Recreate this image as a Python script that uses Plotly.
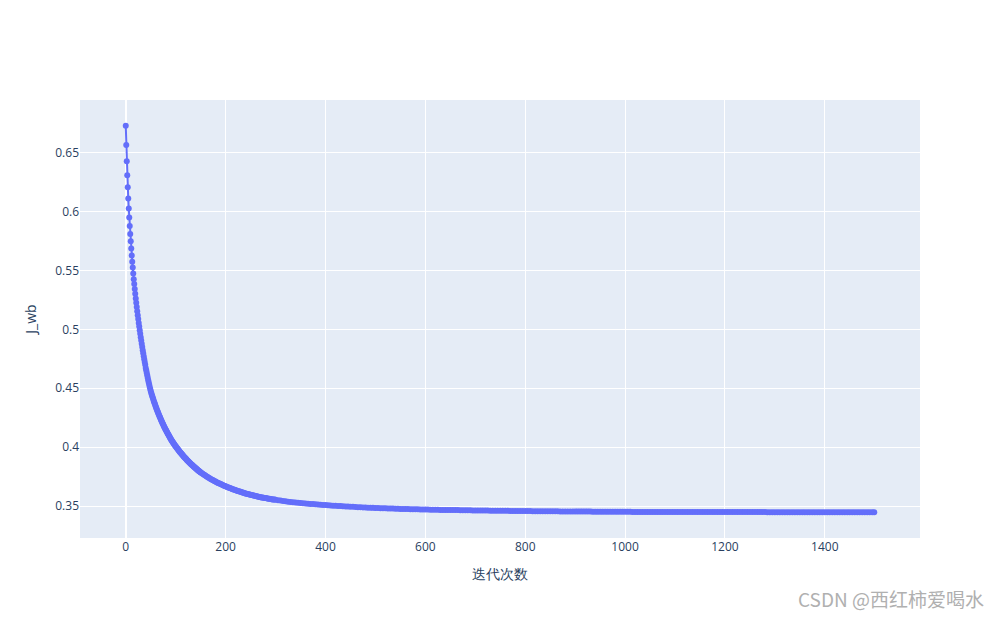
import plotly.graph_objects as go

# iteration numbers (dense where the curve is steep)
iters_a = list(range(0, 151))
iters_b = list(range(152, 301, 2))
iters_c = list(range(305, 1496, 5)) + [1499]

# cost J_wb
cost_a = [
    0.6729, 0.6564, 0.6426, 0.6308, 0.6206, 0.6110, 0.6025, 0.5949, 0.5878, 0.5810,
    0.5748, 0.5686, 0.5627, 0.5573, 0.5525, 0.5475, 0.5426, 0.5384, 0.5342, 0.5302,
    0.5263, 0.5225, 0.5189, 0.5154, 0.5120, 0.5087, 0.5055, 0.5024, 0.4993, 0.4963,
    0.4934, 0.4905, 0.4877, 0.4850, 0.4823, 0.4797, 0.4772, 0.4747, 0.4723, 0.4699,
    0.4673, 0.4652, 0.4631, 0.4610, 0.4589, 0.4569, 0.4549, 0.4530, 0.4511, 0.4493,
    0.4476, 0.4462, 0.4448, 0.4434, 0.4421, 0.4408, 0.4395, 0.4382, 0.4370, 0.4358,
    0.4346, 0.4334, 0.4323, 0.4312, 0.4301, 0.4290, 0.4280, 0.4269, 0.4259, 0.4249,
    0.4239, 0.4229, 0.4220, 0.4210, 0.4201, 0.4192, 0.4183, 0.4174, 0.4166, 0.4157,
    0.4149, 0.4141, 0.4133, 0.4125, 0.4117, 0.4109, 0.4102, 0.4094, 0.4087, 0.4079,
    0.4071, 0.4064, 0.4057, 0.4050, 0.4044, 0.4037, 0.4031, 0.4025, 0.4019, 0.4013,
    0.4007, 0.4001, 0.3995, 0.3990, 0.3984, 0.3979, 0.3973, 0.3968, 0.3962, 0.3957,
    0.3952, 0.3947, 0.3942, 0.3937, 0.3932, 0.3927, 0.3922, 0.3917, 0.3912, 0.3908,
    0.3903, 0.3899, 0.3894, 0.3890, 0.3885, 0.3881, 0.3877, 0.3873, 0.3868, 0.3864,
    0.3860, 0.3856, 0.3852, 0.3848, 0.3844, 0.3840, 0.3836, 0.3832, 0.3829, 0.3825,
    0.3821, 0.3817, 0.3814, 0.3810, 0.3807, 0.3803, 0.3800, 0.3796, 0.3793, 0.3789,
    0.3786,
]
cost_b = [
    0.3780, 0.3774, 0.3768, 0.3763, 0.3757, 0.3752, 0.3747, 0.3741, 0.3736, 0.3731,
    0.3726, 0.3721, 0.3717, 0.3712, 0.3708, 0.3703, 0.3699, 0.3695, 0.3691, 0.3687,
    0.3683, 0.3679, 0.3675, 0.3671, 0.3668, 0.3664, 0.3661, 0.3657, 0.3654, 0.3651,
    0.3648, 0.3644, 0.3641, 0.3638, 0.3635, 0.3632, 0.3629, 0.3626, 0.3624, 0.3621,
    0.3618, 0.3615, 0.3613, 0.3610, 0.3608, 0.3605, 0.3603, 0.3601, 0.3598, 0.3596,
    0.3594, 0.3592, 0.3590, 0.3588, 0.3586, 0.3584, 0.3582, 0.3580, 0.3578, 0.3576,
    0.3574, 0.3573, 0.3571, 0.3569, 0.3568, 0.3566, 0.3565, 0.3563, 0.3562, 0.3560,
    0.3559, 0.3557, 0.3556, 0.3555, 0.3553,
]
cost_c = [
    0.3550, 0.3547, 0.3544, 0.3541, 0.3538, 0.3535, 0.3533, 0.3530, 0.3528, 0.3526,
    0.3524, 0.3522, 0.3520, 0.3518, 0.3517, 0.3515, 0.3513, 0.3512, 0.3510, 0.3509,
    0.3507, 0.3506, 0.3504, 0.3503, 0.3501, 0.3500, 0.3499, 0.3497, 0.3496, 0.3495,
    0.3494, 0.3492, 0.3491, 0.3490, 0.3489, 0.3488, 0.3487, 0.3486, 0.3485, 0.3484,
    0.3483, 0.3482, 0.3482, 0.3481, 0.3480, 0.3479, 0.3479, 0.3478, 0.3477, 0.3476,
    0.3476, 0.3475, 0.3475, 0.3474, 0.3474, 0.3473, 0.3473, 0.3472, 0.3472, 0.3471,
    0.3471, 0.3470, 0.3470, 0.3469, 0.3469, 0.3468, 0.3468, 0.3467, 0.3467, 0.3467,
    0.3466, 0.3466, 0.3466, 0.3465, 0.3465, 0.3464, 0.3464, 0.3464, 0.3463, 0.3463,
    0.3463, 0.3462, 0.3462, 0.3462, 0.3462, 0.3461, 0.3461, 0.3461, 0.3461, 0.3460,
    0.3460, 0.3460, 0.3460, 0.3459, 0.3459, 0.3459, 0.3459, 0.3458, 0.3458, 0.3458,
    0.3458, 0.3458, 0.3457, 0.3457, 0.3457, 0.3457, 0.3457, 0.3456, 0.3456, 0.3456,
    0.3456, 0.3456, 0.3456, 0.3455, 0.3455, 0.3455, 0.3455, 0.3455, 0.3455, 0.3454,
    0.3454, 0.3454, 0.3454, 0.3454, 0.3454, 0.3454, 0.3453, 0.3453, 0.3453, 0.3453,
    0.3453, 0.3453, 0.3453, 0.3452, 0.3452, 0.3452, 0.3452, 0.3452, 0.3452, 0.3452,
    0.3452, 0.3452, 0.3451, 0.3451, 0.3451, 0.3451, 0.3451, 0.3451, 0.3451, 0.3451,
    0.3451, 0.3451, 0.3451, 0.3451, 0.3451, 0.3451, 0.3451, 0.3451, 0.3451, 0.3450,
    0.3450, 0.3450, 0.3450, 0.3450, 0.3450, 0.3450, 0.3450, 0.3450, 0.3450, 0.3450,
    0.3450, 0.3450, 0.3450, 0.3450, 0.3450, 0.3450, 0.3450, 0.3449, 0.3449, 0.3449,
    0.3449, 0.3449, 0.3449, 0.3449, 0.3449, 0.3449, 0.3449, 0.3449, 0.3449, 0.3449,
    0.3449, 0.3449, 0.3449, 0.3449, 0.3449, 0.3449, 0.3448, 0.3448, 0.3448, 0.3448,
    0.3448, 0.3448, 0.3448, 0.3448, 0.3448, 0.3448, 0.3448, 0.3448, 0.3448, 0.3448,
    0.3448, 0.3448, 0.3448, 0.3448, 0.3448, 0.3448, 0.3448, 0.3448, 0.3448, 0.3448,
    0.3448, 0.3448, 0.3448, 0.3448, 0.3448, 0.3447, 0.3447, 0.3447, 0.3447, 0.3447,
    0.3447, 0.3447, 0.3447, 0.3447, 0.3447, 0.3447, 0.3447, 0.3447, 0.3447, 0.3447,
]

iters = iters_a + iters_b + iters_c
cost = cost_a + cost_b + cost_c

fig = go.Figure(go.Scatter(
    x=iters,
    y=cost,
    mode="lines+markers",
    line=dict(color="#636efa"),
))
# fixed size; margins offset by the page's 8px body margin
fig.update_layout(
    width=1000,
    height=618,
    margin=dict(l=72, r=88, t=92, b=88),
    xaxis_title="迭代次数",
    yaxis_title="J_wb",
    showlegend=False,
)
fig.add_annotation(
    text="CSDN @西红柿爱喝水",
    xref="paper", yref="paper",
    x=1.078, y=-0.139,
    xanchor="right", yanchor="middle",
    showarrow=False,
    font=dict(size=19, color="#b0b0b0", family="Noto Sans CJK SC"),
)
fig.write_html("out.html")
